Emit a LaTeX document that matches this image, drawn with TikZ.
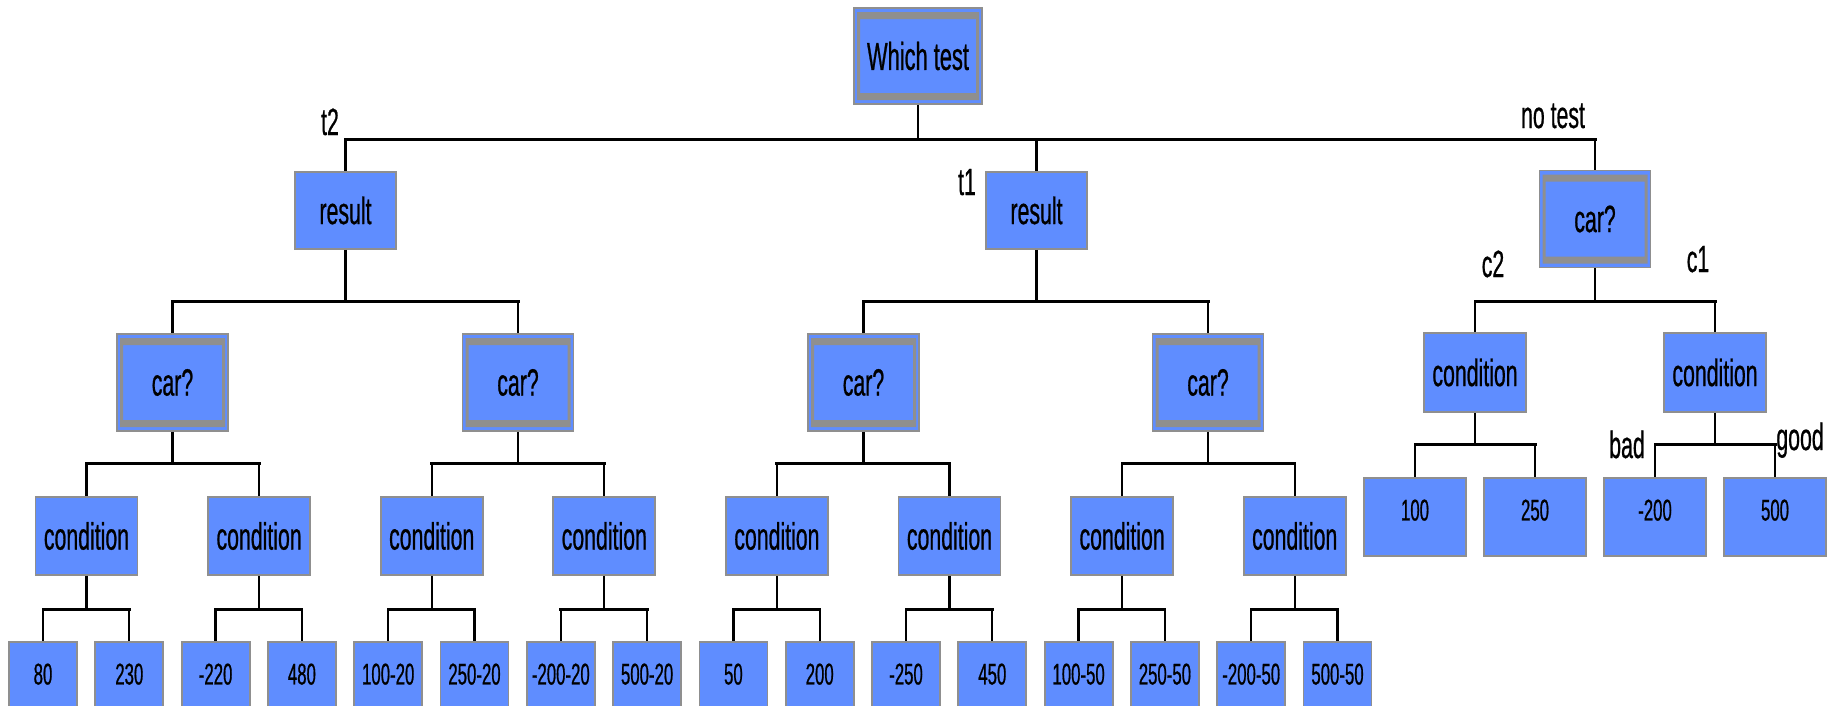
\documentclass[tikz,border=0pt]{standalone}
\usepackage{fontspec}
\newfontfamily\narrowfont[FakeStretch=0.56, FakeBold=0.6]{Liberation Sans}
\definecolor{boxblue}{HTML}{5F8DFF}
\definecolor{boxgrey}{HTML}{8F8F8F}
\tikzset{
  basebox/.style={draw=boxgrey, line width=1.8pt, fill=boxblue, inner sep=0pt,
    font=\narrowfont\fontsize{38}{40}\selectfont},
  framed/.style={path picture={\fill[boxgrey, even odd rule]
      ([xshift=3pt,yshift=-4pt]path picture bounding box.north west) rectangle
      ([xshift=-3pt,yshift=4pt]path picture bounding box.south east)
      ([xshift=6pt,yshift=-11pt]path picture bounding box.north west) rectangle
      ([xshift=-6pt,yshift=11pt]path picture bounding box.south east);}},
  whichbox/.style={basebox, framed, minimum width=128pt, minimum height=96pt,
    font=\narrowfont\fontsize{39}{41}\selectfont},
  resultbox/.style={basebox, minimum width=101pt, minimum height=77pt},
  carbox/.style={basebox, framed, minimum width=111pt, minimum height=97pt},
  condbox/.style={basebox, minimum width=102pt, minimum height=78pt},
  leafbox/.style={basebox, minimum width=68pt, minimum height=78pt, text depth=14pt,
    font=\narrowfont\fontsize{30}{32}\selectfont},
  wideleaf/.style={leafbox, minimum width=102pt},
  edgelabel/.style={anchor=base, inner sep=0pt, font=\narrowfont\fontsize{38}{40}\selectfont},
  vline/.style={draw=black, line width=2.3pt},
  hline/.style={draw=black, line width=3pt, line cap=rect},
}
% #1 parent, #2 drop, #3 left child, #4 right child
\newcommand{\forkto}[4]{%
  \path (#1.south) -- ++(0,#2) coordinate (#1-h);
  \draw[vline] (#1.south) -- (#1-h);
  \draw[hline] (#1-h -| #3.north) -- (#1-h -| #4.north);
  \draw[vline] (#1-h -| #3.north) -- (#3.north);
  \draw[vline] (#1-h -| #4.north) -- (#4.north);
}
\begin{document}
\begin{tikzpicture}[x=1pt, y=-1pt]
\useasboundingbox (0,0) rectangle (1835,705);
\clip (0,0) rectangle (1835,705);

% top
\node[whichbox] (W) at (918,56) {Which test};
\node[resultbox] (R2) at (345.5,210.5) {result};
\node[resultbox] (R1) at (1036.5,210.5) {result};
\node[carbox] (N) at (1595,219) {car?};

% cars
\foreach \k/\x in {0/172.5,1/518,2/863.5,3/1208}
  \node[carbox] (K\k) at (\x,382.5) {car?};

% conditions
\foreach \j in {0,...,7}
  \node[condbox] (C\j) at ({86.5+172.6*\j},536) {condition};

% leaves
\foreach \i/\t in {0/80,1/230,2/-220,3/480,4/100-20,5/250-20,6/-200-20,7/500-20,
                   8/50,9/200,10/-250,11/450,12/100-50,13/250-50,14/-200-50,15/500-50}
  \node[leafbox] (L\i) at ({43+86.3*\i},681) {\t};

% right subtree
\node[condbox, minimum height=79pt] (D2) at (1475,372.5) {condition};
\node[condbox, minimum height=79pt] (D1) at (1715,372.5) {condition};
\foreach \i/\x/\t in {0/1415/100,1/1535/250,2/1655/-200,3/1775/500}
  \node[wideleaf] (E\i) at (\x,517) {\t};

% connectors
\forkto{W}{35}{R2}{N}
\draw[vline] (W-h -| R1.north) -- (R1.north);

\forkto{R2}{52}{K0}{K1}
\forkto{R1}{52}{K2}{K3}
\forkto{K0}{32}{C0}{C1}
\forkto{K1}{32}{C2}{C3}
\forkto{K2}{32}{C4}{C5}
\forkto{K3}{32}{C6}{C7}
\forkto{C0}{34}{L0}{L1}
\forkto{C1}{34}{L2}{L3}
\forkto{C2}{34}{L4}{L5}
\forkto{C3}{34}{L6}{L7}
\forkto{C4}{34}{L8}{L9}
\forkto{C5}{34}{L10}{L11}
\forkto{C6}{34}{L12}{L13}
\forkto{C7}{34}{L14}{L15}

\forkto{N}{33}{D2}{D1}
\forkto{D2}{32}{E0}{E1}
\forkto{D1}{32}{E2}{E3}

% edge labels
\node[edgelabel] (lt2) at (330,135) {t2};
\node[edgelabel] (lt1) at (967,195) {t1};
\node[edgelabel] (lnt) at (1553,128) {no test};
\node[edgelabel] (lc2) at (1493,277) {c2};
\node[edgelabel] (lc1) at (1698,272) {c1};
\node[edgelabel] (lbad) at (1627,458) {bad};
\node[edgelabel] (lgood) at (1800,450) {good};
\end{tikzpicture}
\end{document}
